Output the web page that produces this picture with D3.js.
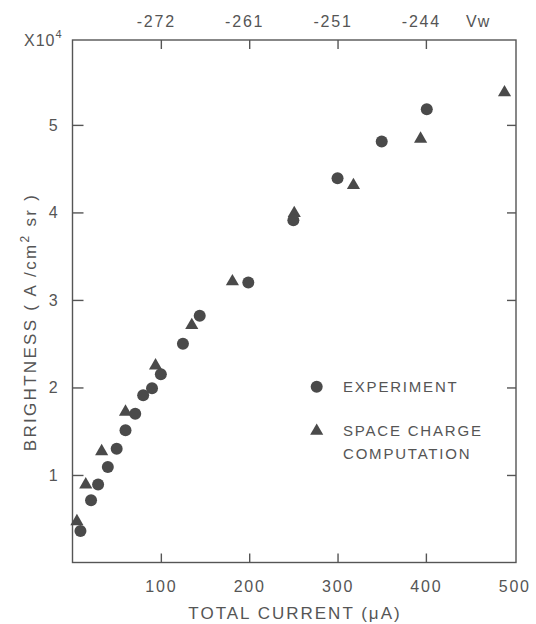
<!DOCTYPE html>
<html><head><meta charset="utf-8">
<script src="https://cdn.jsdelivr.net/npm/d3@7"></script>
<style>
html,body{margin:0;padding:0;background:#fff;}
text{font-family:"Liberation Sans","DejaVu Sans",sans-serif;fill:#555;}
</style></head>
<body><svg id="c" width="536" height="624"></svg>
<script>
// Data (brightness in units of 10^4 A/cm^2 sr, current in µA)
const expCurrent = [9, 21, 29, 40, 50, 60, 71, 80, 90, 100, 125, 144, 199, 250, 300, 350, 401];
const expBright  = [0.36, 0.71, 0.89, 1.09, 1.30, 1.51, 1.70, 1.91, 1.99, 2.15, 2.50, 2.82, 3.20, 3.91, 4.39, 4.81, 5.18];
const simCurrent = [5, 15, 33, 60, 94, 135, 181, 251, 318, 394, 489];
const simBright  = [0.47, 0.89, 1.27, 1.72, 2.25, 2.71, 3.21, 3.99, 4.31, 4.84, 5.37];
const xTicks = [100, 200, 300, 400, 500];
const yTicks = [1, 2, 3, 4, 5];
const topTickPos = [100, 200, 300, 400];
const topTickLabels = ["-272", "-261", "-251", "-244"];

const svg = d3.select("#c");
const x = d3.scaleLinear().domain([0, 502]).range([72.5, 516]);
const y = d3.scaleLinear().domain([0, 5.97]).range([562.5, 40]);
const col = "#555";

const g = svg.append("g");
// frame
g.append("rect").attr("x", x(0)).attr("y", y(5.97)).attr("width", x(502) - x(0)).attr("height", y(0) - y(5.97))
  .attr("fill", "none").attr("stroke", col).attr("stroke-width", 1.4);

// bottom axis (ticks inward)
const bAxis = d3.axisBottom(x).tickValues(xTicks).tickSize(-9).tickPadding(18).tickFormat(d3.format("d"));
const gb = g.append("g").attr("transform", `translate(0,${y(0)})`).call(bAxis);
// left axis
const lAxis = d3.axisLeft(y).tickValues(yTicks).tickSize(-11).tickPadding(13).tickFormat(d3.format("d"));
const gl = g.append("g").attr("transform", `translate(${x(0)},0)`).call(lAxis);
// right axis
const rAxis = d3.axisRight(y).tickValues(yTicks).tickSize(-9).tickFormat("");
const gr = g.append("g").attr("transform", `translate(${x(502)},0)`).call(rAxis);
// top axis
const tAxis = d3.axisTop(x).tickValues(topTickPos).tickSize(-9).tickPadding(13).tickFormat((d, i) => topTickLabels[i]);
const gt = g.append("g").attr("transform", `translate(0,${y(5.97)})`).call(tAxis);

[gb, gl, gr, gt].forEach(a => {
  a.select(".domain").remove();
  a.selectAll(".tick line").attr("stroke", col).attr("stroke-width", 1.4);
  a.selectAll(".tick text").style("font-size", "16px").style("letter-spacing", "1.8px").attr("fill", col);
});
gb.selectAll(".tick").filter(d => d === 500).select("line").remove();
gt.selectAll(".tick text").attr("dx", -5);

// Vw label
g.append("text").attr("x", 466).attr("y", 27).style("font-size", "16px").style("letter-spacing", "1px").text("Vw");

// x10^4
const mult = g.append("text").attr("x", 24).attr("y", 46).style("font-size", "16px").style("letter-spacing", "1px");
mult.append("tspan").text("X10");
mult.append("tspan").attr("dy", -8).style("font-size", "11px").text("4");

// axis titles
g.append("text").attr("x", 295).attr("y", 619).attr("text-anchor", "middle")
  .style("font-size", "17px").style("letter-spacing", "2px").text("TOTAL CURRENT (μA)");
const yl = g.append("text").attr("transform", `translate(36,322) rotate(-90)`).attr("text-anchor", "middle")
  .style("font-size", "17px").style("letter-spacing", "2.3px");
yl.append("tspan").text("BRIGHTNESS  ( A /cm");
yl.append("tspan").attr("dy", -7).style("font-size", "12px").text("2");
yl.append("tspan").attr("dy", 7).text(" sr )");

// markers
const expData = expCurrent.map((c, i) => ({c, b: expBright[i]}));
const simData = simCurrent.map((c, i) => ({c, b: simBright[i]}));
const tri = d3.symbol().type(d3.symbolTriangle).size(75);

g.selectAll(".sim").data(simData).join("path").attr("class", "sim")
  .attr("d", tri).attr("transform", d => `translate(${x(d.c)},${y(d.b)})`).attr("fill", "#4a4a4a");
g.selectAll(".exp").data(expData).join("circle").attr("class", "exp")
  .attr("cx", d => x(d.c)).attr("cy", d => y(d.b)).attr("r", 6).attr("fill", "#4a4a4a");

// legend
g.append("circle").attr("cx", 316.7).attr("cy", 386.7).attr("r", 6).attr("fill", "#4a4a4a");
g.append("path").attr("d", tri).attr("transform", "translate(316.7,431)").attr("fill", "#4a4a4a");
g.append("text").attr("x", 343).attr("y", 392).style("font-size", "15px").style("letter-spacing", "1.8px").text("EXPERIMENT");
g.append("text").attr("x", 343).attr("y", 436).style("font-size", "15px").style("letter-spacing", "1.8px").text("SPACE CHARGE");
g.append("text").attr("x", 343).attr("y", 459).style("font-size", "15px").style("letter-spacing", "1.8px").text("COMPUTATION");
</script></body></html>
